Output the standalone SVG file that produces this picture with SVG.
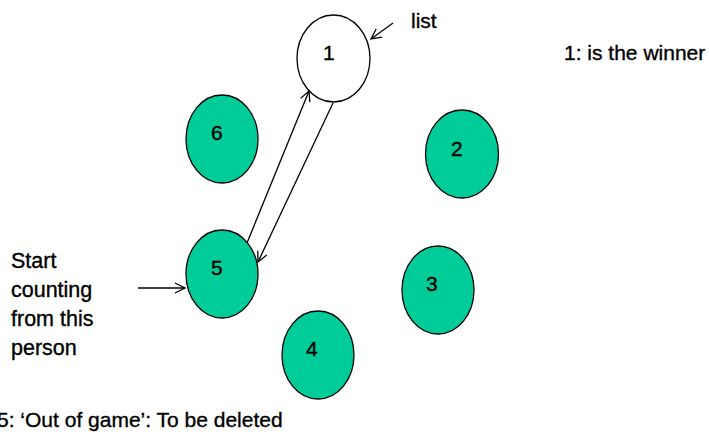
<svg xmlns="http://www.w3.org/2000/svg" width="709" height="436" viewBox="0 0 709 436">
  <style>
    .person { fill: #00cc99; stroke: #000; stroke-width: 1.3; }
    .head { fill: #fff; stroke: #000; stroke-width: 1.3; }
    .lbl { font-family: "Liberation Sans", Arial, sans-serif; font-size: 21px; fill: #000; stroke: #000; stroke-width: 0.35; }
    .note { font-family: "Liberation Sans", Arial, sans-serif; font-size: 21.5px; fill: #000; stroke: #000; stroke-width: 0.35; }
    .link { stroke: #000; stroke-width: 1.3; fill: none; marker-end: url(#open); }
  </style>
  <defs>
    <marker id="open" viewBox="0 0 12 12" refX="11" refY="6" markerWidth="12" markerHeight="12" markerUnits="userSpaceOnUse" orient="auto">
      <path d="M1,1 L11,6 L1,11" fill="none" stroke="#000" stroke-width="1.3"/>
    </marker>
  </defs>

  <rect width="709" height="436" fill="#fff"/>

  <g id="node-1">
    <ellipse class="head" cx="333.5" cy="58.5" rx="36.5" ry="43.5"/>
    <text class="lbl" x="323" y="60">1</text>
  </g>
  <g id="node-2">
    <ellipse class="person" cx="462" cy="154" rx="36.5" ry="44"/>
    <text class="lbl" x="451" y="156">2</text>
  </g>
  <g id="node-3">
    <ellipse class="person" cx="438" cy="290" rx="36" ry="44"/>
    <text class="lbl" x="426" y="291">3</text>
  </g>
  <g id="node-4">
    <ellipse class="person" cx="318" cy="355" rx="36" ry="44"/>
    <text class="lbl" x="306" y="356">4</text>
  </g>
  <g id="node-5">
    <ellipse class="person" cx="222" cy="274" rx="36" ry="44"/>
    <text class="lbl" x="211" y="275">5</text>
  </g>
  <g id="node-6">
    <ellipse class="person" cx="222" cy="139" rx="36" ry="44"/>
    <text class="lbl" x="211" y="140">6</text>
  </g>

  <g id="connectors">
    <line class="link" x1="247" y1="243" x2="309" y2="91"/>
    <line class="link" x1="333" y1="103" x2="258" y2="262"/>
    <line class="link" x1="393" y1="23" x2="371" y2="39"/>
    <line class="link" x1="138" y1="288" x2="185" y2="288"/>
  </g>

  <g id="notes">
    <text class="lbl" x="411" y="28">list</text>
    <text class="lbl" x="564" y="60">1: is the winner</text>
    <text class="note" x="11" y="268">Start</text>
    <text class="note" x="11" y="297">counting</text>
    <text class="note" x="11" y="326">from this</text>
    <text class="note" x="11" y="355">person</text>
    <text class="lbl" x="-3" y="427">5: ‘Out of game’: To be deleted</text>
  </g>
</svg>
